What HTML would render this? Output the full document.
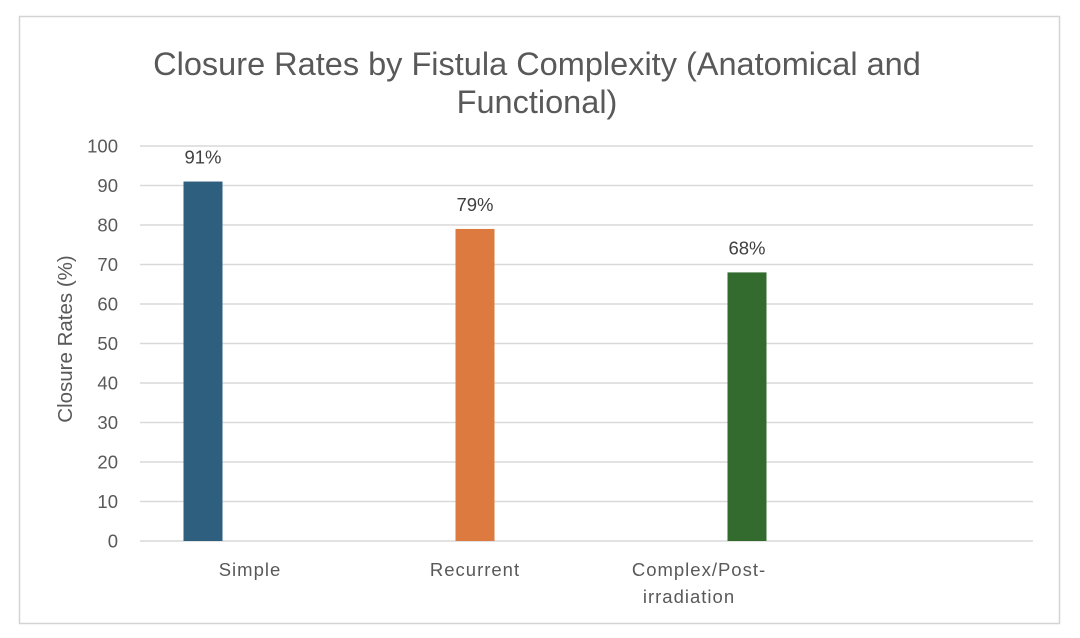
<!DOCTYPE html>
<html><head><meta charset="utf-8"><style>
body{margin:0;background:#fff;}
svg{display:block;font-family:"Liberation Sans",sans-serif;}
</style></head><body>
<svg width="1080" height="638" viewBox="0 0 1080 638">
<rect x="19.5" y="16.5" width="1040" height="607" fill="#fff" stroke="#d4d4d4" stroke-width="1.5"/>
<text x="537" y="75" text-anchor="middle" font-size="32.5" fill="#595959">Closure Rates by Fistula Complexity (Anatomical and</text>
<text x="537" y="113" text-anchor="middle" font-size="32.5" fill="#595959">Functional)</text>
<text transform="translate(72,339) rotate(-90)" text-anchor="middle" font-size="20.5" fill="#595959">Closure Rates (%)</text>
<g id="grid"></g><g id="bars"></g>
</svg>
<script>
const categories=["Simple","Recurrent","Complex/Post-|irradiation"];
const values=[91,79,68];
const valueLabels=["91%","79%","68%"];
const colors=["#2e5f7f","#dd7a3f","#336a2e"];
const yTicks=[0,10,20,30,40,50,60,70,80,90,100];
const NS="http://www.w3.org/2000/svg";
const y0=541,y1=146,xL=140,xR=1033,band=272,firstCenter=203,barW=39;
const labelShift=[[47],[0],[-48,-58]];
const y=v=>y0-(v/100)*(y0-y1);
const x=i=>firstCenter+i*band;
const grid=document.getElementById('grid'),bars=document.getElementById('bars');
function mk(t,a,p){const e=document.createElementNS(NS,t);for(const k in a)e.setAttribute(k,a[k]);p.appendChild(e);return e;}
yTicks.forEach(t=>{
 const l=mk('line',{x1:xL,x2:xR,y1:y(t),y2:y(t),stroke:'#d9d9d9','stroke-width':1.5},grid);
 
 
 const tx=mk('text',{x:118,y:y(t)+6.5,'text-anchor':'end','font-size':18.5,fill:'#595959'},grid);
 tx.textContent=t;
 
 
});
values.forEach((v,i)=>{
 const r=mk('rect',{x:x(i)-barW/2,y:y(v),width:barW,height:y0-y(v),fill:colors[i]},bars);
 
 
 const lb=mk('text',{x:x(i),y:y(v)-18,'text-anchor':'middle','font-size':18.5,fill:'#404040'},bars);
 lb.textContent=valueLabels[i];
 
 
 categories[i].split('|').forEach((s,j)=>{
  const c=mk('text',{x:x(i)+labelShift[i][j],y:576+j*27,'text-anchor':'middle','font-size':18.5,fill:'#595959','letter-spacing':'1'},bars);
  c.textContent=s;
  
  
 });
});
</script>
</body></html>
